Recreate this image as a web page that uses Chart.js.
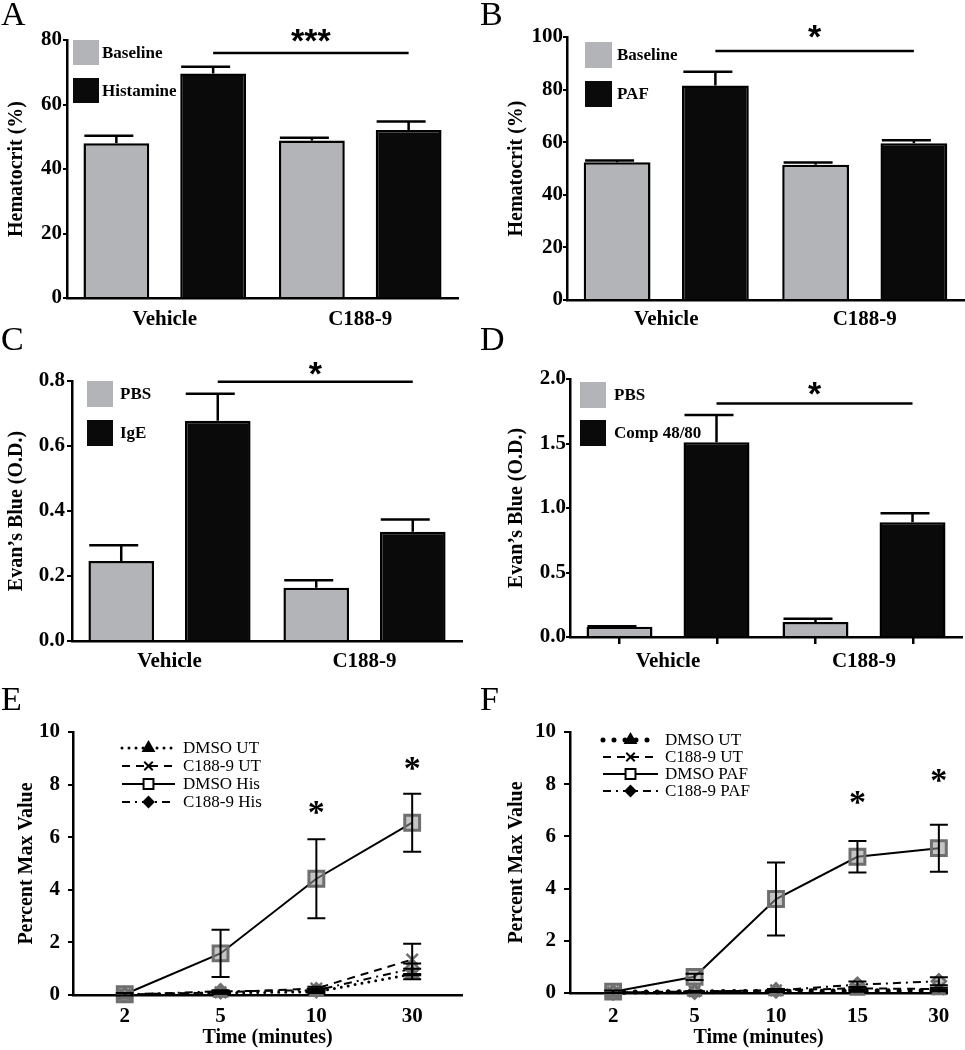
<!DOCTYPE html>
<html>
<head>
<meta charset="utf-8">
<script src="https://cdn.jsdelivr.net/npm/chart.js@4.4.1/dist/chart.umd.min.js"></script>
<style>
  html, body { margin: 0; padding: 0; background: #fff; }
  #fig { position: relative; width: 965px; height: 1050px; overflow: hidden; background: #fff; }
  .panel { position: absolute; }
  .panel canvas { display: block; }
  .letter { position: absolute; z-index: 2; font-family: "Liberation Serif", "Times New Roman", serif; font-size: 34px; line-height: 1; color: #000; }
</style>
</head>
<body>
<div id="fig">
  <div class="panel" style="left:0px;top:0px"><canvas id="chartA" width="480" height="340"></canvas></div>
  <div class="panel" style="left:480px;top:0px"><canvas id="chartB" width="485" height="340"></canvas></div>
  <div class="panel" style="left:0px;top:340px"><canvas id="chartC" width="480" height="350"></canvas></div>
  <div class="panel" style="left:480px;top:340px"><canvas id="chartD" width="485" height="350"></canvas></div>
  <div class="panel" style="left:0px;top:690px"><canvas id="chartE" width="480" height="360"></canvas></div>
  <div class="panel" style="left:480px;top:690px"><canvas id="chartF" width="485" height="360"></canvas></div>
  <div class="letter" style="left:1px;top:-3px">A</div>
  <div class="letter" style="left:480px;top:-3px">B</div>
  <div class="letter" style="left:1px;top:322px">C</div>
  <div class="letter" style="left:480px;top:322px">D</div>
  <div class="letter" style="left:1px;top:682px">E</div>
  <div class="letter" style="left:480px;top:682px">F</div>
</div>
<script>
// groups shared by the bar panels
const groups = ['Vehicle', 'C188-9'];

// A - hematocrit, histamine
const namesA = ['Baseline', 'Histamine'];
const baselineA = [48.0, 48.8];
const baselineErrA = [2.3, 0.9];
const histamineA = [69.6, 52.1];
const histamineErrA = [2.1, 2.6];
const ticksA = [0, 20, 40, 60, 80];

// B - hematocrit, PAF
const namesB = ['Baseline', 'PAF'];
const baselineB = [52.4, 51.4];
const baselineErrB = [0.6, 0.9];
const pafB = [81.6, 59.6];
const pafErrB = [5.2, 1.1];
const ticksB = [0, 20, 40, 60, 80, 100];

// C - Evan's blue, IgE
const namesC = ['PBS', 'IgE'];
const pbsC = [0.246, 0.164];
const pbsErrC = [0.049, 0.023];
const igeC = [0.678, 0.336];
const igeErrC = [0.083, 0.038];
const ticksC = [0, 0.2, 0.4, 0.6, 0.8];

// D - Evan's blue, compound 48/80
const namesD = ['PBS', 'Comp 48/80'];
const pbsD = [0.08, 0.116];
const pbsErrD = [0.004, 0.026];
const compD = [1.51, 0.889];
const compErrD = [0.21, 0.07];
const ticksD = [0, 0.5, 1.0, 1.5, 2.0];

// significance bars: value of the line and of the stars
const sigLine = { A: 76, B: 94.7, C: 0.798, D: 1.81 };
const sigStars = { A: 80.9, B: 101.5, C: 0.834, D: 1.915 };
const sigText = { A: '***', B: '*', C: '*', D: '*' };

// E - time course, histamine
const timesE = ['2', '5', '10', '30'];
const dmsoUtE = [0.02, 0.08, 0.12, 0.8];
const dmsoUtErrE = [0, 0.03, 0.04, 0.2];
const c188UtE = [0.02, 0.1, 0.25, 1.35];
const c188UtErrE = [0, 0.04, 0.06, 0.6];
const dmsoHisE = [0.03, 1.58, 4.42, 6.55];
const dmsoHisErrE = [0.05, 0.9, 1.5, 1.1];
const c188HisE = [0.02, 0.14, 0.18, 1.0];
const c188HisErrE = [0, 0.04, 0.05, 0.2];
const starAtE = ['10', '30'];
const starValE = [7.15, 8.82];

// F - time course, PAF
const timesF = ['2', '5', '10', '15', '30'];
const dmsoUtF = [0.03, 0.05, 0.06, 0.08, 0.1];
const dmsoUtErrF = [0, 0.02, 0.02, 0.03, 0.03];
const c188UtF = [0.02, 0.06, 0.1, 0.18, 0.15];
const c188UtErrF = [0, 0.02, 0.03, 0.05, 0.05];
const dmsoPafF = [0.05, 0.62, 3.6, 5.22, 5.55];
const dmsoPafErrF = [0.05, 0.12, 1.4, 0.6, 0.9];
const c188PafF = [0.02, 0.05, 0.1, 0.32, 0.45];
const c188PafErrF = [0, 0.03, 0.05, 0.12, 0.15];
const starAtF = ['15', '30'];
const starValF = [7.51, 8.35];
const lineTicks = [0, 2, 4, 6, 8, 10];

const GREY = '#b3b4b8';
const BLACK = '#0a0a0a';
const SERIF = '"Liberation Serif", "Times New Roman", serif';

Chart.defaults.font.family = SERIF;
Chart.defaults.color = '#000';

// error bars (upper only for bars, both sides for lines)
const errorBars = {
    id: 'errorBars',
    afterDatasetsDraw(chart, args, o) {
        const ctx = chart.ctx;
        const y = chart.scales.y;
        chart.data.datasets.forEach((ds, di) => {
            if (!ds.errorBars) return;
            const meta = chart.getDatasetMeta(di);
            ctx.save();
            ctx.strokeStyle = '#000';
            ctx.lineWidth = o.lineWidth;
            meta.data.forEach((el, i) => {
                const err = ds.errorBars[i];
                if (!err) return;
                const raw = ds.data[i];
                const v = typeof raw === 'object' ? raw.y : raw;
                const top = y.getPixelForValue(v + err);
                const low = o.both ? y.getPixelForValue(v - err) : y.getPixelForValue(v);
                ctx.beginPath();
                ctx.moveTo(el.x, low);
                ctx.lineTo(el.x, top);
                ctx.moveTo(el.x - o.capLeft, top);
                ctx.lineTo(el.x + o.capRight, top);
                if (o.both) {
                    ctx.moveTo(el.x - o.capLeft, low);
                    ctx.lineTo(el.x + o.capRight, low);
                }
                ctx.stroke();
            });
            ctx.restore();
        });
    }
};

// square legend for the bar panels
const boxLegend = {
    id: 'boxLegend',
    afterDraw(chart, args, o) {
        const ctx = chart.ctx;
        const area = chart.chartArea;
        chart.data.datasets.forEach((ds, i) => {
            const x = area.left + o.x;
            const y = area.top + o.y + i * o.row;
            ctx.save();
            ctx.fillStyle = ds.backgroundColor;
            ctx.fillRect(x, y, o.boxW, o.boxH);
            ctx.fillStyle = '#000';
            ctx.font = 'bold 17px ' + SERIF;
            ctx.textAlign = 'left';
            ctx.textBaseline = 'middle';
            ctx.fillText(ds.label, x + o.boxW + o.gap, y + o.boxH / 2 + 1);
            ctx.restore();
        });
    }
};

// significance line between the two treated bars
const sigBar = {
    id: 'sigBar',
    afterDraw(chart, args, o) {
        const ctx = chart.ctx;
        const y = chart.scales.y;
        const meta = chart.getDatasetMeta(1);
        const x1 = meta.data[0].x;
        const x2 = meta.data[1].x;
        const ly = y.getPixelForValue(o.lineAt);
        ctx.save();
        ctx.strokeStyle = '#000';
        ctx.lineWidth = 2.5;
        ctx.beginPath();
        ctx.moveTo(x1, ly);
        ctx.lineTo(x2, ly);
        ctx.stroke();
        ctx.fillStyle = '#000';
        ctx.font = 'bold 34px "Liberation Sans", Arial, sans-serif';
        ctx.textAlign = 'center';
        ctx.textBaseline = 'alphabetic';
        ctx.fillText(o.text, (x1 + x2) / 2, y.getPixelForValue(o.textAt) + 0.43 * 34);
        ctx.restore();
    }
};

// line legend for the time course panels
const lineLegend = {
    id: 'lineLegend',
    afterDraw(chart, args, o) {
        const ctx = chart.ctx;
        const area = chart.chartArea;
        chart.data.datasets.forEach((ds, i) => {
            const x0 = area.left + o.x;
            const y = area.top + o.y + i * o.row;
            ctx.save();
            ctx.strokeStyle = '#000';
            ctx.lineWidth = ds.borderWidth;
            ctx.lineCap = ds.borderCapStyle || 'butt';
            ctx.setLineDash(ds.borderDash || []);
            ctx.beginPath();
            ctx.moveTo(x0, y);
            ctx.lineTo(x0 + o.len, y);
            ctx.stroke();
            ctx.setLineDash([]);
            ctx.lineCap = 'butt';
            ctx.lineWidth = 2;
            ctx.fillStyle = ds.legendFill;
            Chart.helpers.drawPoint(ctx, { pointStyle: ds.pointStyle, radius: ds.legendRadius, borderWidth: 2, rotation: 0 }, x0 + o.len / 2, y);
            ctx.fillStyle = '#000';
            ctx.font = '17px ' + SERIF;
            ctx.textAlign = 'left';
            ctx.textBaseline = 'middle';
            ctx.fillText(ds.label, x0 + o.len + o.gap, y + 1);
            ctx.restore();
        });
    }
};

// stars over the time points
const starMarks = {
    id: 'starMarks',
    afterDraw(chart, args, o) {
        const ctx = chart.ctx;
        ctx.save();
        ctx.fillStyle = '#000';
        ctx.font = 'bold 34px ' + SERIF;
        ctx.textAlign = 'center';
        ctx.textBaseline = 'alphabetic';
        o.at.forEach((t, k) => {
            const x = chart.scales.x.getPixelForValue(o.times.indexOf(t));
            const y = chart.scales.y.getPixelForValue(o.values[k]);
            ctx.fillText('*', x, y + 0.47 * 34);
        });
        ctx.restore();
    }
};

function yAxis(c) {
    return {
        min: c.ticks[0],
        max: c.ticks[c.ticks.length - 1],
        afterBuildTicks: s => { s.ticks = c.ticks.map(v => ({ value: v })); },
        ticks: {
            color: '#000',
            padding: c.yPad,
            font: { size: 21, weight: 'bold' },
            callback: v => v.toFixed(c.decimals)
        },
        grid: { drawOnChartArea: false, drawTicks: true, tickLength: c.tickLen, color: '#000', lineWidth: 2 },
        border: { display: true, color: '#000', width: 2.5 },
        title: {
            display: true,
            text: c.yTitle,
            color: '#000',
            font: { size: 20, weight: 'bold' },
            padding: { top: c.titlePad, bottom: 0 }
        },
        afterFit: s => { s.width = c.area[0]; }
    };
}

// bar panel (A-D)
function createBarChart(id, c) {
    const scales = {
        x: {
            type: 'category',
            weight: 1,
            offset: true,
            grid: { display: false, drawTicks: false },
            border: { display: true, color: '#000', width: 2.5 },
            ticks: { color: '#000', padding: c.xPad, font: { size: 21, weight: 'bold' } },
            afterFit: s => { s.height = c.h - c.area[3]; }
        },
        y: yAxis(c)
    };
    if (c.barTicks) {
        scales.x2 = {
            type: 'category',
            position: 'bottom',
            weight: 0,
            offset: true,
            labels: groups.flatMap(g => c.names.map(n => g + ' ' + n)),
            grid: { display: true, offset: false, drawOnChartArea: false, drawTicks: true, tickLength: 7, color: '#000', lineWidth: 2.5 },
            ticks: { display: false },
            border: { display: false },
            afterFit: s => { s.height = 0; }
        };
    }
    return new Chart(document.getElementById(id), {
        type: 'bar',
        data: {
            labels: groups,
            datasets: [
                {
                    label: c.names[0],
                    data: c.vals[0],
                    errorBars: c.errs[0],
                    xAxisID: 'x',
                    backgroundColor: GREY,
                    borderColor: '#000',
                    borderWidth: 2.5,
                    barPercentage: 0.68,
                    categoryPercentage: 0.99
                },
                {
                    label: c.names[1],
                    data: c.vals[1],
                    errorBars: c.errs[1],
                    xAxisID: 'x',
                    backgroundColor: BLACK,
                    borderColor: '#000',
                    borderWidth: 2.5,
                    barPercentage: 0.68,
                    categoryPercentage: 0.99
                }
            ]
        },
        options: {
            responsive: false,
            animation: false,
            events: [],
            layout: { padding: { left: 0, top: c.area[1], right: c.w - c.area[2], bottom: 0 } },
            scales: scales,
            plugins: {
                legend: { display: false },
                tooltip: { enabled: false },
                errorBars: { lineWidth: 2.5, capLeft: 32, capRight: 17, both: false },
                boxLegend: c.legend,
                sigBar: { lineAt: c.sigLine, textAt: c.sigStars, text: c.sigText }
            }
        },
        plugins: [errorBars, boxLegend, sigBar]
    });
}

const toPoints = vals => vals.map((v, i) => ({ x: i, y: v }));

function lineSet(label, vals, errs, style) {
    return Object.assign({
        label: label,
        data: toPoints(vals),
        errorBars: errs,
        borderColor: '#000',
        borderWidth: 2,
        tension: 0,
        fill: false,
        clip: false,
        pointBorderColor: '#6f6f6f',
        pointBackgroundColor: 'rgba(150,150,150,0.55)',
        pointBorderWidth: 2.5
    }, style);
}

// time course panel (E-F)
function createLineChart(id, c) {
    return new Chart(document.getElementById(id), {
        type: 'line',
        data: { datasets: c.datasets },
        options: {
            responsive: false,
            animation: false,
            events: [],
            layout: { padding: { left: 0, top: c.area[1], right: c.w - c.area[2], bottom: 0 } },
            scales: {
                x: {
                    type: 'linear',
                    min: c.xMin,
                    max: c.xMax,
                    afterBuildTicks: s => { s.ticks = c.times.map((t, i) => ({ value: i })); },
                    ticks: {
                        color: '#000',
                        padding: c.xPad,
                        font: { size: 21, weight: 'bold' },
                        callback: v => c.times[v]
                    },
                    grid: { display: false, drawTicks: false },
                    border: { display: true, color: '#000', width: 2.5 },
                    title: {
                        display: true,
                        text: 'Time (minutes)',
                        color: '#000',
                        font: { size: 20, weight: 'bold' },
                        padding: { top: 0, bottom: 0 }
                    },
                    afterFit: s => { s.height = c.h - c.area[3]; }
                },
                y: yAxis(c)
            },
            plugins: {
                legend: { display: false },
                tooltip: { enabled: false },
                errorBars: { lineWidth: 2, capLeft: 9, capRight: 9, both: true },
                lineLegend: c.legend,
                starMarks: { at: c.starAt, values: c.starVal, times: c.times }
            }
        },
        plugins: [errorBars, lineLegend, starMarks]
    });
}

window.onload = function () {
    createBarChart('chartA', {
        w: 480, h: 340, area: [67, 40, 458, 298],
        names: namesA, vals: [baselineA, histamineA], errs: [baselineErrA, histamineErrA],
        ticks: ticksA, decimals: 0, yTitle: 'Hematocrit (%)', titlePad: 5, yPad: 1, tickLen: 4, xPad: 9,
        legend: { x: 6, y: 0, boxW: 26, boxH: 25, row: 38, gap: 3 },
        sigLine: sigLine.A, sigStars: sigStars.A, sigText: sigText.A
    });
    createBarChart('chartB', {
        w: 485, h: 340, area: [87, 37, 484, 300],
        names: namesB, vals: [baselineB, pafB], errs: [baselineErrB, pafErrB],
        ticks: ticksB, decimals: 0, yTitle: 'Hematocrit (%)', titlePad: 25, yPad: 0, tickLen: 4, xPad: 7,
        legend: { x: 18, y: 5, boxW: 27, boxH: 26, row: 39, gap: 5 },
        sigLine: sigLine.B, sigStars: sigStars.B, sigText: sigText.B
    });
    createBarChart('chartC', {
        w: 480, h: 350, area: [72, 41, 462, 301],
        names: namesC, vals: [pbsC, igeC], errs: [pbsErrC, igeErrC],
        ticks: ticksC, decimals: 1, yTitle: 'Evan\u2019s Blue (O.D.)', titlePad: 5, yPad: 2, tickLen: 5, xPad: 8,
        legend: { x: 15, y: 0, boxW: 26, boxH: 26, row: 39, gap: 7 },
        sigLine: sigLine.C, sigStars: sigStars.C, sigText: sigText.C
    });
    createBarChart('chartD', {
        w: 485, h: 350, area: [90, 39, 482, 297],
        names: namesD, vals: [pbsD, compD], errs: [pbsErrD, compErrD],
        ticks: ticksD, decimals: 1, yTitle: 'Evan\u2019s Blue (O.D.)', titlePad: 25, yPad: 0, tickLen: 4, xPad: 12,
        barTicks: true,
        legend: { x: 10, y: 3, boxW: 26, boxH: 26, row: 38, gap: 8 },
        sigLine: sigLine.D, sigStars: sigStars.D, sigText: sigText.D
    });

    createLineChart('chartE', {
        w: 480, h: 360, area: [73, 42, 462, 305],
        times: timesE, xMin: -0.54, xMax: 3.52,
        ticks: lineTicks, decimals: 0, yTitle: 'Percent Max Value', titlePad: 15, yPad: 8, tickLen: 5, xPad: 9,
        legend: { x: 49, y: 16, row: 18, len: 53, gap: 8 },
        starAt: starAtE, starVal: starValE,
        datasets: [
            lineSet('DMSO UT', dmsoUtE, dmsoUtErrE, { borderWidth: 3, borderDash: [0, 7], borderCapStyle: 'round', pointStyle: 'triangle', pointRadius: 7, legendFill: '#000', legendRadius: 6 }),
            lineSet('C188-9 UT', c188UtE, c188UtErrE, { borderDash: [8, 6], pointStyle: 'crossRot', pointRadius: 8, legendFill: '#000', legendRadius: 6 }),
            lineSet('DMSO His', dmsoHisE, dmsoHisErrE, { pointStyle: 'rect', pointRadius: 10.5, pointBorderWidth: 3, legendFill: '#fff', legendRadius: 7 }),
            lineSet('C188-9 His', c188HisE, c188HisErrE, { borderDash: [8, 5, 2, 5], pointStyle: 'rectRot', pointRadius: 7, legendFill: '#000', legendRadius: 5 })
        ]
    });
    createLineChart('chartF', {
        w: 485, h: 360, area: [90, 42, 467, 303],
        times: timesF, xMin: -0.53, xMax: 4.1,
        ticks: lineTicks, decimals: 0, yTitle: 'Percent Max Value', titlePad: 25, yPad: 8, tickLen: 6, xPad: 11,
        legend: { x: 33, y: 8, row: 17, len: 55, gap: 7 },
        starAt: starAtF, starVal: starValF,
        datasets: [
            lineSet('DMSO UT', dmsoUtF, dmsoUtErrF, { borderWidth: 5, borderDash: [0, 11], borderCapStyle: 'round', pointStyle: 'triangle', pointRadius: 7, legendFill: '#000', legendRadius: 6 }),
            lineSet('C188-9 UT', c188UtF, c188UtErrF, { borderDash: [8, 6], pointStyle: 'crossRot', pointRadius: 8, legendFill: '#000', legendRadius: 6 }),
            lineSet('DMSO PAF', dmsoPafF, dmsoPafErrF, { pointStyle: 'rect', pointRadius: 10.5, pointBorderWidth: 3, legendFill: '#fff', legendRadius: 7 }),
            lineSet('C188-9 PAF', c188PafF, c188PafErrF, { borderDash: [8, 5, 2, 5], pointStyle: 'rectRot', pointRadius: 7, legendFill: '#000', legendRadius: 5 })
        ]
    });
};
</script>
</body>
</html>
